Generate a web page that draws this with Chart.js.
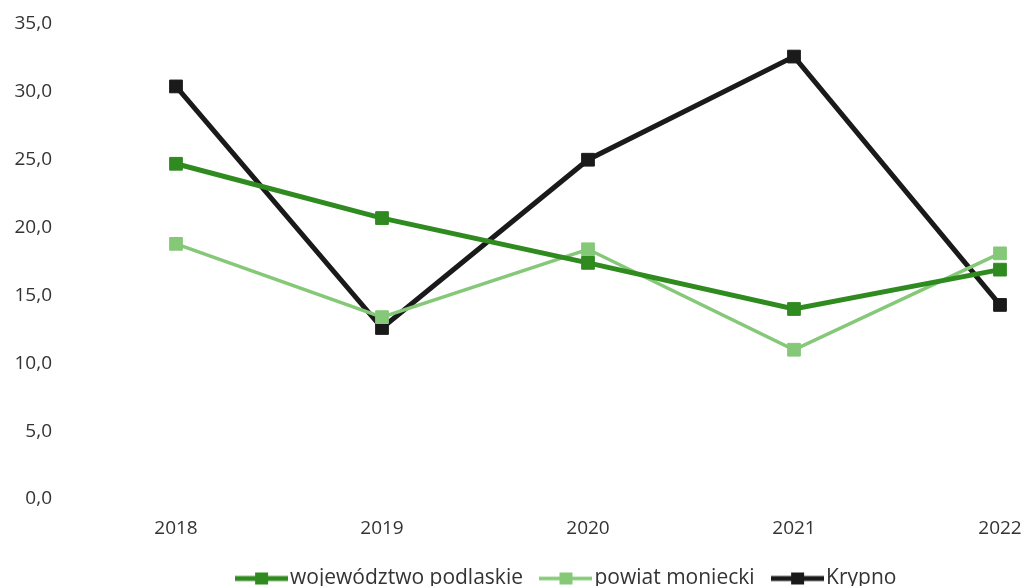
<!DOCTYPE html>
<html>
<head>
<meta charset="utf-8">
<script src="https://cdn.jsdelivr.net/npm/chart.js@4.4.1/dist/chart.umd.min.js"></script>
<style>
  html, body { margin: 0; padding: 0; background: #fff; overflow: hidden; }
  #frame { width: 1027px; height: 586px; overflow: hidden; }
  #wrap { width: 1027px; height: 599px; }
</style>
</head>
<body>
<div id="frame"><div id="wrap"><canvas id="chart"></canvas></div></div>
<script>
// data
const years = ['2018', '2019', '2020', '2021', '2022'];
const podlaskie = [24.7, 20.7, 17.4, 14.0, 16.9];
const moniecki = [18.8, 13.4, 18.4, 11.0, 18.1];
const krypno = [30.4, 12.6, 25.0, 32.6, 14.3];
const yMax = 35;
const yStep = 5;

const colors = ['#2f8a1f', '#84c878', '#1a1a1a'];
const names = ['województwo podlaskie', 'powiat moniecki', 'Krypno'];
const widths = [5, 3.5, 5];

// small canvas with a line + square, used as the legend symbol
function legendIcon(color, lw) {
  const c = document.createElement('canvas');
  c.width = 53;
  c.height = 14;
  const g = c.getContext('2d');
  g.strokeStyle = color;
  g.lineWidth = lw;
  g.beginPath();
  g.moveTo(0, 7);
  g.lineTo(53, 7);
  g.stroke();
  g.fillStyle = color;
  g.fillRect(20, 1, 13, 12);
  return c;
}
const icons = colors.map((c, i) => legendIcon(c, widths[i]));

const series = [podlaskie, moniecki, krypno];
const datasets = series.map((vals, i) => ({
  label: names[i],
  data: vals,
  borderColor: colors[i],
  backgroundColor: colors[i],
  borderWidth: widths[i],
  pointStyle: 'rect',
  pointRadius: 9,
  pointBorderWidth: 1,
  tension: 0,
}));

Chart.defaults.font.family = '"Open Sans", sans-serif';
Chart.defaults.font.size = 19;
Chart.defaults.color = '#333';

// nudge the legend a bit to the left, like in the picture
const legendShift = {
  id: 'legendShift',
  afterUpdate: (chart) => {
    chart.legend.left -= 18;
    chart.legend.right -= 18;
  },
};

new Chart(document.getElementById('chart'), {
  type: 'line',
  data: { labels: years, datasets: datasets },
  plugins: [legendShift],
  options: {
    responsive: true,
    maintainAspectRatio: false,
    animation: false,
    layout: { padding: { top: 24, right: 27, left: 0, bottom: 0 } },
    plugins: {
      tooltip: { enabled: false },
      legend: {
        position: 'bottom',
        fullSize: false,
        labels: {
          usePointStyle: true,
          pointStyleWidth: 36,
          padding: 25,
          color: '#333',
          font: { size: 21 },
          generateLabels: (chart) => {
            const items = Chart.defaults.plugins.legend.labels.generateLabels(chart);
            items.forEach((it, i) => { it.pointStyle = icons[i]; });
            return items;
          },
        },
      },
    },
    scales: {
      x: {
        grid: { display: false, drawTicks: false },
        border: { display: false },
        ticks: { padding: 18, color: '#333' },
        afterFit: (scale) => {
          scale.height = 44;
          scale.paddingLeft = 0;
          scale.paddingRight = 0;
        },
      },
      y: {
        min: 0,
        max: yMax,
        grid: { display: false, drawTicks: false },
        border: { display: false },
        ticks: {
          stepSize: yStep,
          padding: 124,
          color: '#333',
          callback: (v) => v.toFixed(1).replace('.', ','),
        },
        afterFit: (scale) => {
          scale.width = 176;
          scale.paddingTop = 0;
          scale.paddingBottom = 0;
        },
      },
    },
  },
});
</script>
</body>
</html>
